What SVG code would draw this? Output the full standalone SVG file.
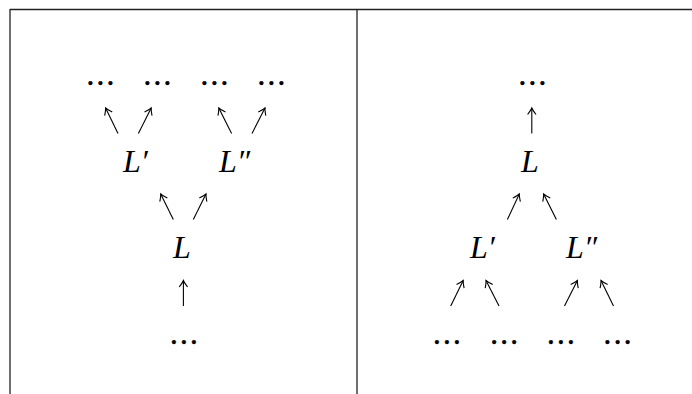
<svg xmlns="http://www.w3.org/2000/svg" width="692" height="394" viewBox="0 0 692 394">
<style>
.t{font-family:"Liberation Serif","Times New Roman",serif;font-size:32px;fill:#000}
.i{font-style:italic}
.d{text-anchor:middle;font-size:31px;letter-spacing:2.3px;stroke:#000;stroke-width:0.5}
.a{stroke:#000;stroke-width:1.1;fill:none}
.f{stroke:#222;stroke-width:1.3;fill:none}
</style>
<defs>
<marker id="ah" markerUnits="userSpaceOnUse" markerWidth="12" markerHeight="12" refX="0" refY="0" viewBox="-7 -6 9 12" orient="auto" overflow="visible">
<path d="M-6.5,-4.2 Q-2,-0.8 0,0 Q-2,0.8 -6.5,4.2" stroke="#000" stroke-width="1.1" fill="none"/>
</marker>
</defs>
<g id="frame">
<path class="f" d="M10,9.5 H692 M10,9 V394 M357,9 V394"/>
</g>
<g id="connectors">
<line class="a" x1="118" y1="133.5" x2="105.6" y2="108" marker-end="url(#ah)"/>
<line class="a" x1="138.4" y1="133.5" x2="151.2" y2="108" marker-end="url(#ah)"/>
<line class="a" x1="231.6" y1="133.5" x2="218.8" y2="108" marker-end="url(#ah)"/>
<line class="a" x1="252" y1="133.5" x2="265" y2="108" marker-end="url(#ah)"/>
<line class="a" x1="173.3" y1="219.5" x2="160.7" y2="194" marker-end="url(#ah)"/>
<line class="a" x1="193.3" y1="219.5" x2="206" y2="194" marker-end="url(#ah)"/>
<line class="a" x1="183.4" y1="306" x2="183.4" y2="280.5" marker-end="url(#ah)"/>
<line class="a" x1="531.8" y1="133.5" x2="531.8" y2="108" marker-end="url(#ah)"/>
<line class="a" x1="507.4" y1="219.5" x2="519.3" y2="194" marker-end="url(#ah)"/>
<line class="a" x1="556.4" y1="219.5" x2="543.6" y2="194" marker-end="url(#ah)"/>
<line class="a" x1="450.7" y1="306" x2="463.2" y2="280.5" marker-end="url(#ah)"/>
<line class="a" x1="499" y1="306" x2="486" y2="280.5" marker-end="url(#ah)"/>
<line class="a" x1="564.5" y1="306" x2="577.4" y2="280.5" marker-end="url(#ah)"/>
<line class="a" x1="613.5" y1="306" x2="601" y2="280.5" marker-end="url(#ah)"/>
</g>
<g id="left-dots-1"><text class="t d" x="101.5" y="85">...</text></g>
<g id="left-dots-2"><text class="t d" x="158.5" y="85">...</text></g>
<g id="left-dots-3"><text class="t d" x="215.5" y="85">...</text></g>
<g id="left-dots-4"><text class="t d" x="272.5" y="85">...</text></g>
<g id="left-Lp"><text class="t i" x="123" y="171.5">L′</text></g>
<g id="left-Lpp"><text class="t i" x="219" y="171.5">L″</text></g>
<g id="left-L"><text class="t i" x="173" y="257.5">L</text></g>
<g id="left-dots-bottom"><text class="t d" x="185" y="344">...</text></g>
<g id="right-dots-top"><text class="t d" x="533.5" y="85">...</text></g>
<g id="right-L"><text class="t i" x="521" y="171.5">L</text></g>
<g id="right-Lp"><text class="t i" x="470" y="257.5">L′</text></g>
<g id="right-Lpp"><text class="t i" x="566" y="257.5">L″</text></g>
<g id="right-dots-1"><text class="t d" x="448.1" y="344">...</text></g>
<g id="right-dots-2"><text class="t d" x="505.3" y="344">...</text></g>
<g id="right-dots-3"><text class="t d" x="562" y="344">...</text></g>
<g id="right-dots-4"><text class="t d" x="618.7" y="344">...</text></g>
</svg>
